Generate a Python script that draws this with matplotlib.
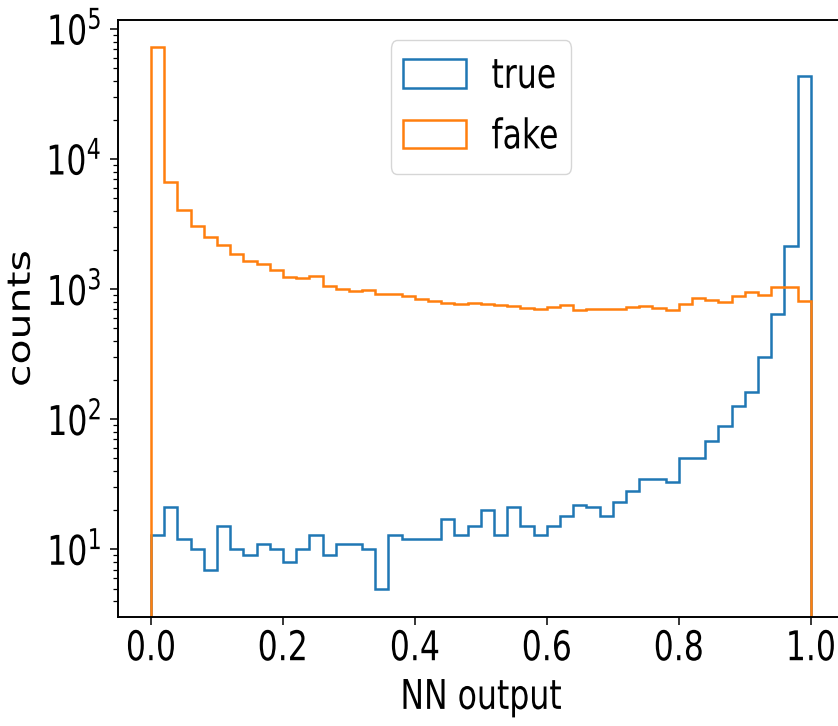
import numpy as np
import matplotlib
matplotlib.use("Agg")
import matplotlib.pyplot as plt
from matplotlib.patheffects import AbstractPathEffect
from matplotlib.transforms import Affine2D

# ---- data (counts per bin, 50 bins on [0, 1]) ----
n_bins = 50
x_range = (0.0, 1.0)
true_counts = [13, 21, 12, 10, 7, 15, 10, 9, 11, 10,
               8, 10, 13, 9, 11, 11, 10, 5, 13, 12,
               12, 12, 17, 13, 15, 20, 13, 21, 15, 13,
               15, 18, 22, 21, 18, 23, 28, 35, 35, 33,
               50, 50, 68, 88, 127, 163, 303, 644, 2150, 43300]
fake_counts = [72300, 6650, 4050, 3050, 2500, 2180, 1860, 1650, 1570, 1400,
               1245, 1210, 1265, 1055, 1005, 970, 988, 920, 920, 883,
               848, 813, 780, 771, 785, 767, 762, 745, 714, 706,
               731, 754, 692, 706, 706, 706, 736, 745, 723, 693,
               763, 857, 833, 798, 879, 944, 895, 1031, 1031, 809]
series_labels = ["true", "fake"]
x_ticks = [0.0, 0.2, 0.4, 0.6, 0.8, 1.0]
y_ticks = [1e1, 1e2, 1e3, 1e4, 1e5]
x_label = "NN output"
y_label = "counts"

SQ = 0.77  # horizontal squeeze of the reference rendering


class HSqueeze(AbstractPathEffect):
    def __init__(self, s=SQ, anchor="center", cx=None):
        super().__init__((0, 0))
        self.s = s
        self.anchor = anchor
        self.cx = cx

    def draw_path(self, renderer, gc, tpath, affine, rgbFace=None):
        if self.cx is not None:
            cx = self.cx
        else:
            ext = tpath.get_extents(affine)
            if self.anchor == "right":
                cx = ext.x1
            elif self.anchor == "left":
                cx = ext.x0
            else:
                cx = 0.5 * (ext.x0 + ext.x1)
        t = affine + Affine2D().translate(-cx, 0).scale(self.s, 1).translate(cx, 0)
        renderer.draw_path(gc, tpath, t, rgbFace)


FS = 29.5
W, H = 838, 726
fig = plt.figure(figsize=(W / 100, H / 100), dpi=100)
ax_left, ax_bottom = 118 / W, (H - 617) / H
ax_w, ax_h = (843.7 - 118) / W, (617 - 20) / H
ax = fig.add_axes([ax_left, ax_bottom, ax_w, ax_h])

edges = np.linspace(x_range[0], x_range[1], n_bins + 1)
centers = 0.5 * (edges[:-1] + edges[1:])
ax.hist(centers, bins=edges, weights=true_counts, histtype="step",
        color="#1f77b4", lw=1.8, label=series_labels[0])
ax.hist(centers, bins=edges, weights=fake_counts, histtype="step",
        color="#ff7f0e", lw=1.8, label=series_labels[1])

ax.set_yscale("log")
ax.set_xlim(-0.05, 1.05)
ax.set_ylim(3.02, 1.173e5)
ax.set_xticks(x_ticks)
ax.set_yticks(y_ticks)

for s in ax.spines.values():
    s.set_linewidth(1.4)
ax.tick_params(which="major", length=5.8, width=1.1, labelsize=FS)
ax.tick_params(which="minor", length=3.4, width=0.9)
ax.tick_params(axis="x", pad=3)
ax.tick_params(axis="y", pad=6)

ax.set_xlabel(x_label, fontsize=FS)
ax.set_ylabel(y_label, fontsize=FS)
ax.xaxis.set_label_coords(0.5, -0.102)
ax.yaxis.set_label_coords((42 - 118) / (843.7 - 118), 0.5)
ax.xaxis.label.set_path_effects([HSqueeze()])
ax.yaxis.label.set_path_effects([HSqueeze()])

leg = ax.legend(loc="upper center", fontsize=FS)
cx_leg = (ax_left + ax_w / 2) * W
leg.get_frame().set_path_effects([HSqueeze(cx=cx_leg)])
for t in leg.get_texts():
    t.set_path_effects([HSqueeze(cx=cx_leg)])
for p in leg.get_patches():
    p.set_path_effects([HSqueeze(cx=cx_leg)])

fig.canvas.draw()
for tk in ax.xaxis.get_major_ticks():
    tk.label1.set_path_effects([HSqueeze()])
for tk in ax.yaxis.get_major_ticks():
    tk.label1.set_path_effects([HSqueeze(anchor="right")])

fig.savefig("out.png", dpi=100)
